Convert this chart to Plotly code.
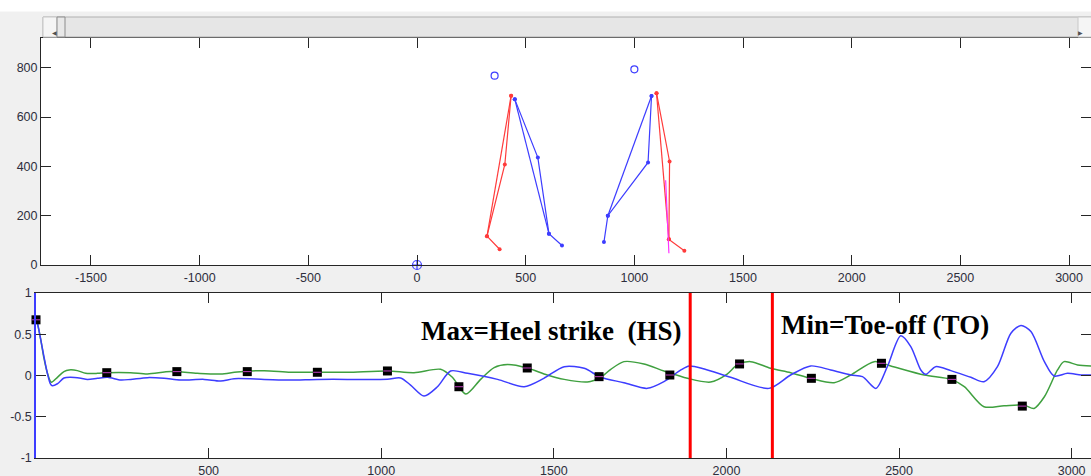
import plotly.graph_objects as go

W, H = 1091, 476

# ---------------- top panel: stick figures ----------------
TOP_XTICKS = [-1500, -1000, -500, 0, 500, 1000, 1500, 2000, 2500, 3000]
TOP_XTICKTEXT = ["-1500", "-1000", "-500", "0", "500", "1000", "1500", "2000", "2500", "3000"]
TOP_YTICKS = [0, 200, 400, 600, 800]
TOP_YTICKTEXT = ["0", "200", "400", "600", "800"]

# joints: hip, knee, ankle, toe
FIG1_RED_X = [433, 404, 322, 380]
FIG1_RED_Y = [687, 408, 117, 64]
FIG1_BLUE_X = [450, 556, 607, 667]
FIG1_BLUE_Y = [672, 436, 127, 79]
FIG2_BLUE_X = [1079, 1063, 878, 860]
FIG2_BLUE_Y = [686, 416, 200, 93]
FIG2_RED_X = [1102, 1162, 1159, 1230]
FIG2_RED_Y = [697, 420, 104, 58]
HEAD_X = [357, 1000]
HEAD_Y = [768, 794]
ORIGIN_X = [0]
ORIGIN_Y = [0]
MAGENTA_X = [1144, 1159]
MAGENTA_Y = [344, 48]

# ---------------- bottom panel: signals ----------------
BLUE_X = [0, 4, 14, 23, 33, 41, 47, 62, 81, 100, 130, 149, 178, 207, 246, 274, 323, 371, 419, 487,
          535, 574, 661, 736, 815, 902, 1018, 1056, 1085, 1124, 1163, 1201, 1250, 1337, 1414, 1471,
          1530, 1588, 1636, 1703, 1771, 1819, 1868, 1892, 1936, 2012, 2123, 2186, 2244, 2302, 2360,
          2394, 2433, 2466, 2505, 2534, 2563, 2577, 2606, 2650, 2708, 2746, 2785, 2824, 2853, 2882,
          2921, 2949, 2988, 3027, 3058]
BLUE_Y = [0.68, 0.635, 0.43, 0.23, 0.026, -0.095, -0.124, -0.10, -0.03, -0.022, -0.034, -0.047,
          -0.034, -0.022, -0.055, -0.047, -0.026, -0.034, -0.055, -0.047, -0.067, -0.039, -0.047,
          -0.055, -0.047, -0.047, -0.045, -0.030, -0.116, -0.249, -0.136, 0.055, 0.026, -0.047,
          -0.136, -0.034, 0.107, 0.087, -0.022, -0.087, -0.156, -0.075, 0.067, 0.116, 0.079, -0.022,
          -0.156, 0.006, 0.116, 0.067, 0.006, -0.014, -0.156, 0.107, 0.481, 0.351, 0.067, 0.014,
          0.107, 0.059, -0.022, -0.075, 0.107, 0.513, 0.606, 0.533, 0.168, -0.006, 0.026, 0.006, 0.006]
GREEN_X = [0, 4, 14, 23, 33, 44.5, 62, 81, 96, 120, 144, 178, 205, 274, 323, 390, 467, 535, 583, 661,
           737, 815, 902, 1018, 1095, 1172, 1206, 1245, 1288, 1327, 1366, 1423, 1481, 1530, 1597,
           1636, 1665, 1703, 1761, 1819, 1887, 1954, 2002, 2031, 2070, 2128, 2186, 2244, 2312, 2360,
           2428, 2476, 2573, 2650, 2689, 2746, 2804, 2862, 2891, 2921, 2959, 2978, 3017, 3058]
GREEN_Y = [0.68, 0.635, 0.43, 0.21, 0.03, -0.083, -0.022, 0.047, 0.067, 0.059, 0.026, 0.026, 0.034,
           0.034, 0.018, 0.047, 0.026, 0.018, 0.043, 0.059, 0.039, 0.039, 0.039, 0.055, 0.034, 0.075,
           -0.022, -0.225, -0.047, 0.095, 0.132, 0.091, 0.006, -0.047, -0.079, -0.022, 0.075, 0.168,
           0.140, 0.055, -0.034, -0.079, 0.018, 0.128, 0.168, 0.087, 0.034, -0.034, -0.087, 0.006,
           0.168, 0.116, 0.006, -0.047, -0.136, -0.379, -0.367, -0.359, -0.399, -0.258, 0.067, 0.168,
           0.128, 0.116]
MARK_X = [0, 205, 408, 612, 815, 1018, 1225, 1423, 1631, 1836, 2038, 2246, 2449, 2653, 2857, 3059]
MARK_Y = [0.675, 0.034, 0.047, 0.047, 0.039, 0.055, -0.136, 0.091, -0.014, 0.006, 0.140, -0.034,
          0.148, -0.047, -0.371, 0.128]
HS_X = 1895
TO_X = 2133
BOT_XTICKS = [500, 1000, 1500, 2000, 2500, 3000]
BOT_XTICKTEXT = ["500", "1000", "1500", "2000", "2500", "3000"]
BOT_YTICKS = [-1, -0.5, 0, 0.5, 1]
BOT_YTICKTEXT = ["-1", "-0.5", "0", "0.5", "1"]

RED = "#ff3b3b"
BLUE = "#3d3dff"
GREEN = "#3fa03f"
AXC = "#262626"
TICKFONT = dict(family="Liberation Sans, Arial, sans-serif", size=12.5, color="#2e2e3c")


def leg_path(xs, ys):
    # hip-knee-ankle-toe chain plus hip-ankle segment
    px = [xs[0], xs[1], xs[2], xs[3], None, xs[0], xs[2]]
    py = [ys[0], ys[1], ys[2], ys[3], None, ys[0], ys[2]]
    return px, py


fig = go.Figure()

for xs, ys, col in [(FIG1_RED_X, FIG1_RED_Y, RED), (FIG1_BLUE_X, FIG1_BLUE_Y, BLUE),
                    (FIG2_BLUE_X, FIG2_BLUE_Y, BLUE), (FIG2_RED_X, FIG2_RED_Y, RED)]:
    px, py = leg_path(xs, ys)
    fig.add_trace(go.Scatter(x=px, y=py, mode="lines+markers", xaxis="x", yaxis="y",
                             line=dict(color=col, width=1.2), marker=dict(color=col, size=4)))

fig.add_trace(go.Scatter(x=MAGENTA_X, y=MAGENTA_Y, mode="lines", xaxis="x", yaxis="y",
                         line=dict(color="#ff33ff", width=1.2)))
fig.add_trace(go.Scatter(x=HEAD_X, y=HEAD_Y, mode="markers", xaxis="x", yaxis="y",
                         marker=dict(symbol="circle-open", size=7, color=BLUE, line=dict(width=1.2))))
fig.add_trace(go.Scatter(x=ORIGIN_X, y=ORIGIN_Y, mode="markers", xaxis="x", yaxis="y", cliponaxis=False,
                         marker=dict(symbol="circle-cross-open", size=9, color=BLUE, line=dict(width=1.2))))

# bottom panel
fig.add_trace(go.Scatter(x=GREEN_X, y=GREEN_Y, mode="lines", xaxis="x2", yaxis="y2",
                         line=dict(color=GREEN, width=1.5, shape="spline", smoothing=0.8)))
fig.add_trace(go.Scatter(x=BLUE_X, y=BLUE_Y, mode="lines", xaxis="x2", yaxis="y2",
                         line=dict(color=BLUE, width=1.5, shape="spline", smoothing=0.8)))
fig.add_trace(go.Scatter(x=MARK_X, y=MARK_Y, mode="markers", xaxis="x2", yaxis="y2", cliponaxis=False,
                         marker=dict(symbol="square", size=9, color="black")))
fig.add_trace(go.Scatter(x=MARK_X, y=MARK_Y, mode="markers", xaxis="x2", yaxis="y2", cliponaxis=False,
                         marker=dict(symbol="line-ew", size=6, color="#c040c0",
                                     line=dict(color="#c040c0", width=1))))
for xv in (HS_X, TO_X):
    fig.add_trace(go.Scatter(x=[xv, xv], y=[-1, 1], mode="lines", xaxis="x2", yaxis="y2",
                             line=dict(color="#ff0000", width=3)))

# dummy traces for right-side tick axes
fig.add_trace(go.Scatter(x=[None], y=[None], xaxis="x", yaxis="y3", hoverinfo="skip"))
fig.add_trace(go.Scatter(x=[None], y=[None], xaxis="x2", yaxis="y4", hoverinfo="skip"))

top_dom_y = [1 - 265 / H, 1 - 38 / H]
bot_dom_y = [1 - 458 / H, 1 - 293 / H]

common = dict(showgrid=False, zeroline=False, ticks="inside", ticklen=10, tickcolor=AXC,
              linecolor=AXC, linewidth=1, showline=True, tickfont=TICKFONT, automargin=False)
right = dict(side="right", ticks="inside", ticklen=10, tickcolor=AXC, showticklabels=False,
             showline=False, showgrid=False, zeroline=False, automargin=False)

fig.update_layout(
    width=W, height=H, margin=dict(l=0, r=0, t=0, b=0, autoexpand=False),
    paper_bgcolor="#f0f0f0", plot_bgcolor="white", showlegend=False,
    xaxis=dict(domain=[41 / W, 1], range=[-1730, 3101], tickvals=TOP_XTICKS, ticktext=TOP_XTICKTEXT,
               anchor="y", mirror="ticks", ticklabelstandoff=1, **common),
    yaxis=dict(domain=top_dom_y, range=[0, 921], tickvals=TOP_YTICKS, ticktext=TOP_YTICKTEXT,
               anchor="x", **common),
    yaxis3=dict(overlaying="y", anchor="x", range=[0, 921], tickvals=TOP_YTICKS, **right),
    xaxis2=dict(domain=[36 / W, 1], range=[0, 3056], tickvals=BOT_XTICKS, ticktext=BOT_XTICKTEXT,
                anchor="y2", mirror="ticks", ticklabelstandoff=1, **common),
    yaxis2=dict(domain=bot_dom_y, range=[-1, 1], tickvals=BOT_YTICKS, ticktext=BOT_YTICKTEXT,
                anchor="x2", **{**common, "linecolor": BLUE, "linewidth": 1.5}),
    yaxis4=dict(overlaying="y2", anchor="x2", range=[-1, 1], tickvals=BOT_YTICKS, **right),
)

# annotations
TXT_FONT = dict(family="Liberation Serif, Times New Roman, serif", size=27, color="black")
fig.add_annotation(x=1108, y=0.541, xref="x2", yref="y2", text="<b>Max=Heel strike\u00a0 (HS)</b>",
                   showarrow=False, xanchor="left", yanchor="middle", font=TXT_FONT)
fig.add_annotation(x=2151, y=0.608, xref="x2", yref="y2", text="<b>Min=Toe-off (TO)</b>",
                   showarrow=False, xanchor="left", yanchor="middle", font=TXT_FONT)

# window chrome: white strip and scrollbar
def px_rect(x0, y0, x1, y1, fill, line=None):
    fig.add_shape(type="rect", xref="paper", yref="paper", x0=x0 / W, x1=x1 / W,
                  y0=1 - y1 / H, y1=1 - y0 / H, fillcolor=fill,
                  line=dict(color=line or fill, width=1), layer="above")

px_rect(0, 0, W, 11, "white")
px_rect(43, 17, W + 2, 37, "#e6e6e6", "#b0b0b0")
px_rect(43, 17, 57, 37, "#f5f5f5", "#c8c8c8")
px_rect(57, 17, 65, 37, "#e8e8e8", "#8c8c8c")
px_rect(1078, 17, W + 2, 37, "#f5f5f5", "#c8c8c8")
fig.add_annotation(x=50 / W, y=1 - 27 / H, xref="paper", yref="paper", text="\u25c0", showarrow=False,
                   font=dict(family="DejaVu Sans", size=6, color="#505050"))
fig.add_annotation(x=1085 / W, y=1 - 27 / H, xref="paper", yref="paper", text="\u25b6", showarrow=False,
                   font=dict(family="DejaVu Sans", size=6, color="#505050"))

fig.write_html("out.html")
